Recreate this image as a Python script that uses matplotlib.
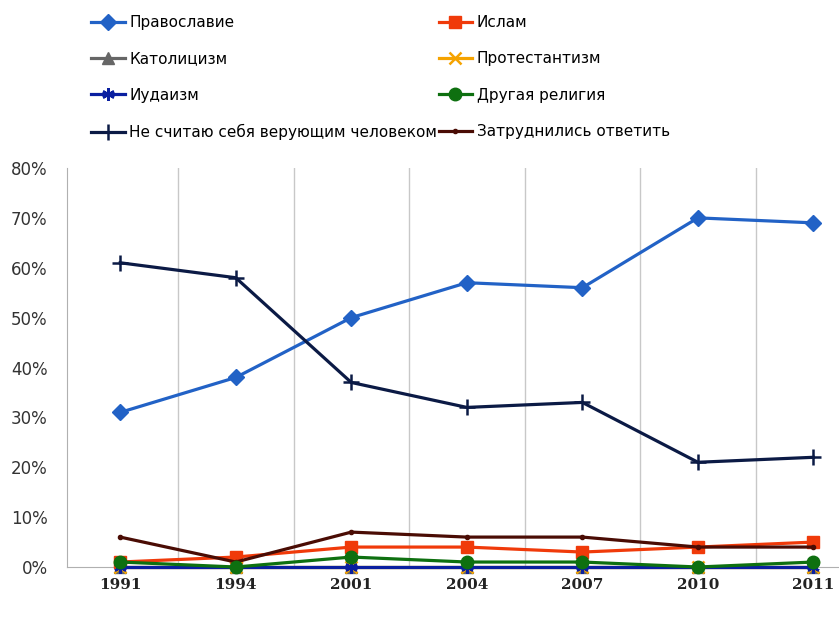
import numpy as np
import matplotlib
matplotlib.use("Agg")
from matplotlib import pyplot as plt

# годы опроса и доли ответов (%)
years = ["1991", "1994", "2001", "2004", "2007", "2010", "2011"]
orthodox = [31, 38, 50, 57, 56, 70, 69]
islam = [1, 2, 4, 4, 3, 4, 5]
catholic = [0, 0, 0, 0, 0, 0, 0]
protestant = [0, 0, 0, 0, 0, 0, 0]
judaism = [0, 0, 0, 0, 0, 0, 0]
other = [1, 0, 2, 1, 1, 0, 1]
nonbeliever = [61, 58, 37, 32, 33, 21, 22]
hard_to_say = [6, 1, 7, 6, 6, 4, 4]
yticks = [0, 10, 20, 30, 40, 50, 60, 70, 80]

# имя, данные, цвет, маркер, размер, zorder
series = [
    ("Православие", orthodox, "#2262C6", "D", 8, 3),
    ("Ислам", islam, "#F03A0A", "s", 9, 3),
    ("Католицизм", catholic, "#666666", "^", 8, 3),
    ("Протестантизм", protestant, "#F5A300", "x", 8, 3),
    ("Иудаизм", judaism, "#0A1FA0", (6, 2, 0), 9, 3.5),
    ("Другая религия", other, "#0E7010", "o", 9, 4),
    ("Не считаю себя верующим человеком", nonbeliever, "#0B1A45", "+", 12, 3),
    ("Затруднились ответить", hard_to_say, "#4A0C04", "o", 3, 3),
]

plt.rcParams['font.family'] = ['DejaVu Sans Condensed', 'Liberation Sans Narrow', 'DejaVu Sans']

fig = plt.figure(figsize=(8.39, 6.22), dpi=100)
ax = fig.add_axes([0.0799, 0.0884, 0.92, 0.6415])
x = np.arange(len(years))
handles = {}
for name, vals, col, mk, ms, z in series:
    h, = ax.plot(x, vals, color=col, marker=mk, markersize=ms, linewidth=2.3,
                 markeredgewidth=1.8 if mk in ("+", "x", (6, 2, 0)) else 1.0,
                 label=name, zorder=z, clip_on=False)
    handles[name] = h

ax.set_xlim(-0.46, 6.22)
ax.set_ylim(0, 80)
ax.set_yticks(yticks)
ax.set_yticklabels([f"{v}%" for v in yticks], color="#333333", fontsize=12,
                   family=['DejaVu Sans'])
ax.set_xticks(x)
ax.set_xticklabels(years, fontsize=11, fontweight='bold', family=['DejaVu Serif'],
                   color="#222222")
ax.set_xticks(x[:-1] + 0.5, minor=True)
ax.grid(which='minor', axis='x', color='#c8c8c8', linewidth=1.0)
ax.tick_params(which='both', length=0)
ax.tick_params(axis='y', pad=14)
ax.tick_params(axis='x', pad=8)
for s in ['top', 'right']:
    ax.spines[s].set_visible(False)
ax.spines['left'].set_color('#b0b0b0')
ax.spines['bottom'].set_color('#b0b0b0')
ax.spines['bottom'].set_zorder(1)

order = ["Православие", "Католицизм", "Иудаизм", "Не считаю себя верующим человеком",
         "Ислам", "Протестантизм", "Другая религия", "Затруднились ответить"]
fig.legend([handles[n] for n in order], order, ncol=2, loc='upper left',
           bbox_to_anchor=(0.092, 0.998), frameon=False, fontsize=11,
           handlelength=2.2, handletextpad=0.3, columnspacing=0.1,
           labelspacing=1.4)

plt.savefig('out.png', dpi=100)
